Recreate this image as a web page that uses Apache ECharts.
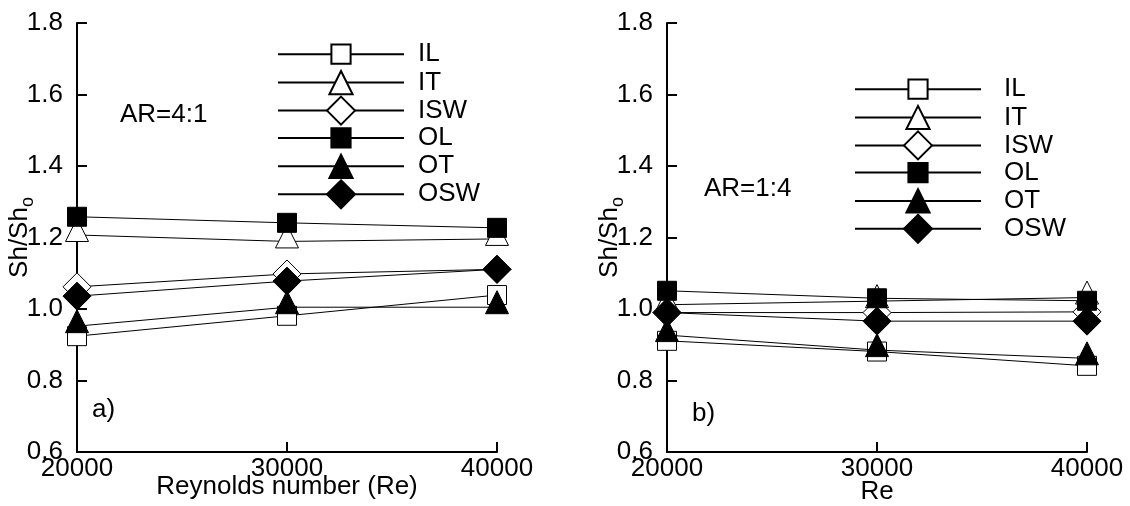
<!DOCTYPE html>
<html>
<head>
<meta charset="utf-8">
<script src="https://cdn.jsdelivr.net/npm/echarts@6/dist/echarts.min.js"></script>
<style>
html,body{margin:0;padding:0;background:#fff;}
#chart{width:1130px;height:506px;}
</style>
</head>
<body>
<div id="chart"></div>
<script>
// ---- data ----
const reynolds = [20000, 30000, 40000];
const seriesNames = ['IL', 'IT', 'ISW', 'OL', 'OT', 'OSW'];
const xTicks = [20000, 30000, 40000];
const yTicks = [0.6, 0.8, 1.0, 1.2, 1.4, 1.6, 1.8];

// a) AR=4:1
const a_IL  = [0.924, 0.981, 1.039];
const a_IT  = [1.207, 1.189, 1.196];
const a_ISW = [1.062, 1.098, 1.111];
const a_OL  = [1.258, 1.241, 1.227];
const a_OT  = [0.952, 1.005, 1.005];
const a_OSW = [1.036, 1.078, 1.111];

// b) AR=1:4
const b_IL  = [0.911, 0.881, 0.841];
const b_IT  = [1.012, 1.022, 1.032];
const b_ISW = [0.990, 0.990, 0.992];
const b_OL  = [1.051, 1.030, 1.023];
const b_OT  = [0.927, 0.885, 0.862];
const b_OSW = [0.990, 0.966, 0.966];

const panelA = [a_IL, a_IT, a_ISW, a_OL, a_OT, a_OSW];
const panelB = [b_IL, b_IT, b_ISW, b_OL, b_OT, b_OSW];

// ---- styles ----
const FONT = '"Liberation Sans", Arial, sans-serif';
const FS = 26;
const styleFor = {
  IL:  {symbol: 'rect', size: 19, fill: '#fff', offset: [0, 0], lh: 24, adj: -2.5},
  IT:  {symbol: 'triangle', size: 23, fill: '#fff', offset: [0, -5], lh: 29, adj: 0},
  ISW: {symbol: 'diamond', size: 28, fill: '#fff', offset: [0, 0], lh: 35, adj: 0.5},
  OL:  {symbol: 'rect', size: 19, fill: '#000', offset: [0, 0], lh: 24, adj: -2.5},
  OT:  {symbol: 'triangle', size: 23, fill: '#000', offset: [0, -5], lh: 29, adj: 0},
  OSW: {symbol: 'diamond', size: 28, fill: '#000', offset: [0, 0], lh: 35, adj: 0.5}
};

function makeSeries(panel, idx) {
  return seriesNames.map((name, i) => {
    const st = styleFor[name];
    return {
      name: name,
      type: 'line',
      xAxisIndex: idx,
      yAxisIndex: idx,
      data: reynolds.map((x, k) => [x, panel[i][k]]),
      symbol: st.symbol,
      symbolSize: st.size,
      symbolOffset: st.offset,
      clip: false,
      lineStyle: {color: '#000', width: 1},
      itemStyle: {color: st.fill, borderColor: '#000', borderWidth: 1, opacity: 1},
      emphasis: {disabled: true},
      z: 2 + i
    };
  });
}

function makeLegends(left, top0, step, textGap) {
  return seriesNames.map((name, i) => {
    const st = styleFor[name];
    return {
      data: [name],
      left: left,
      top: top0 + step * i - 0.4 * st.lh + st.adj,
      padding: 0,
      itemWidth: 126,
      itemHeight: st.lh,
      selectedMode: false,
      orient: 'vertical',
      textStyle: {fontFamily: FONT, fontSize: FS, lineHeight: 14, color: '#000', padding: [0, 0, 0, textGap]}
    };
  });
}

function xAxisFor(idx, name, gap) {
  return {
    gridIndex: idx,
    type: 'value',
    min: xTicks[0],
    max: xTicks[xTicks.length - 1],
    interval: xTicks[1] - xTicks[0],
    name: name,
    nameLocation: 'middle',
    nameGap: gap,
    nameMoveOverlap: false,
    nameTextStyle: {fontFamily: FONT, fontSize: FS, color: '#000'},
    axisLine: {show: true, onZero: false, lineStyle: {color: '#000', width: 2}},
    axisTick: {show: true, inside: true, length: 10, lineStyle: {color: '#000', width: 2}},
    axisLabel: {fontFamily: FONT, fontSize: FS, color: '#000', margin: 4, showMinLabel: true, showMaxLabel: true,
      formatter: v => String(v)},
    splitLine: {show: false}
  };
}

function yAxisFor(idx) {
  return {
    gridIndex: idx,
    type: 'value',
    min: yTicks[0],
    max: yTicks[yTicks.length - 1],
    interval: 0.2,
    name: '{a|Sh/Sh}{b|o}',
    nameLocation: 'middle',
    nameRotate: 90,
    nameGap: 43,
    nameMoveOverlap: false,
    nameTextStyle: {
      fontFamily: FONT, color: '#000',
      rich: {
        a: {fontFamily: FONT, fontSize: FS, color: '#000', lineHeight: 28},
        b: {fontFamily: FONT, fontSize: 18, color: '#000', lineHeight: 18, verticalAlign: 'bottom', padding: [0, 0, -3, 0]}
      }
    },
    axisLine: {show: true, onZero: false, lineStyle: {color: '#000', width: 2}},
    axisTick: {show: true, inside: true, length: 10, lineStyle: {color: '#000', width: 2}},
    axisLabel: {fontFamily: FONT, fontSize: FS, color: '#000', margin: 14, formatter: v => v.toFixed(1)},
    splitLine: {show: false}
  };
}

const textStyle = (t, x, y) => ({
  type: 'text', left: x, top: y,
  style: {text: t, font: FS + 'px ' + FONT, fill: '#000'}
});

const chart = echarts.init(document.getElementById('chart'), null, {renderer: 'canvas'});
chart.setOption({
  animation: false,
  backgroundColor: '#fff',
  grid: [
    {left: 77, top: 23, width: 420, height: 429, containLabel: false, outerBoundsMode: 'none'},
    {left: 667, top: 23, width: 420, height: 429, containLabel: false, outerBoundsMode: 'none'}
  ],
  xAxis: [xAxisFor(0, 'Reynolds number (Re)', 22), xAxisFor(1, 'Re', 27)],
  yAxis: [yAxisFor(0), yAxisFor(1)],
  legend: makeLegends(277, 53.3, 27.9, 9).concat(makeLegends(854, 88.3, 27.8, 18)),
  series: makeSeries(panelA, 0).concat(makeSeries(panelB, 1)),
  graphic: [
    textStyle('AR=4:1', 120, 102),
    textStyle('a)', 92, 397),
    textStyle('AR=1:4', 704, 176),
    textStyle('b)', 692, 401)
  ]
});
</script>
</body>
</html>
